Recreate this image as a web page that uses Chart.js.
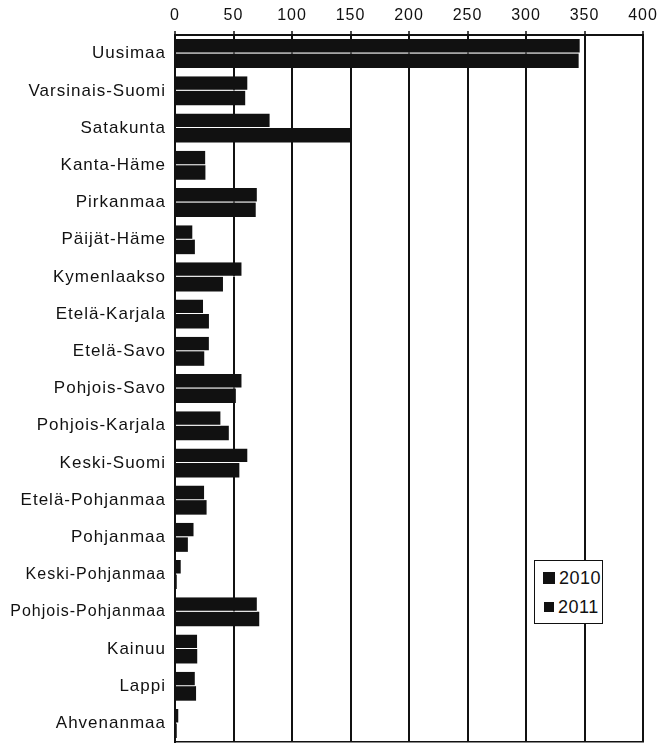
<!DOCTYPE html>
<html><head><meta charset="utf-8">
<script src="https://cdn.jsdelivr.net/npm/chart.js@4/dist/chart.umd.min.js"></script>
<style>
html,body{margin:0;padding:0;background:#fff;}
#wrap{position:relative;width:672px;height:743px;}
#legend{position:absolute;left:534px;top:560px;width:67px;height:62px;border:1px solid #111;background:#fff;font-family:"Liberation Sans",Arial,sans-serif;font-size:18px;color:#111;letter-spacing:0.5px;}
.item{position:absolute;left:8px;height:22px;display:flex;align-items:center;}
.sw{display:inline-block;background:#111;margin-right:4px;}
</style></head><body>
<div id="wrap"><canvas id="c" width="672" height="743"></canvas><div id="legend"></div></div>
<script>
const categories = ['Uusimaa','Varsinais-Suomi','Satakunta','Kanta-Häme','Pirkanmaa','Päijät-Häme','Kymenlaakso','Etelä-Karjala','Etelä-Savo','Pohjois-Savo','Pohjois-Karjala','Keski-Suomi','Etelä-Pohjanmaa','Pohjanmaa','Keski-Pohjanmaa','Pohjois-Pohjanmaa','Kainuu','Lappi','Ahvenanmaa'];
const series2010 = [346, 62, 81, 26, 70, 15, 57, 24, 29, 57, 39, 62, 25, 16, 5, 70, 19, 17, 3];
const series2011 = [345, 60, 150, 26, 69, 17, 41, 29, 25, 52, 46, 55, 27, 11, 1.5, 72, 19, 18, 1.5];
const seriesNames = ['2010', '2011'];
const xTickValues = [0, 50, 100, 150, 200, 250, 300, 350, 400];
const smallLabels = ['Keski-Pohjanmaa', 'Pohjois-Pohjanmaa'];

const FONT = '"Liberation Sans", Arial, sans-serif';
const spacing = {
  id: 'spacing',
  beforeLayout(chart){ chart.ctx.letterSpacing = '1px'; },
  beforeDraw(chart){ chart.ctx.letterSpacing = '1px'; }
};

new Chart(document.getElementById('c'), {
  type: 'bar',
  data: {
    labels: categories,
    datasets: [
      { label: seriesNames[0], data: series2010, backgroundColor: '#111', borderColor: '#fff', borderWidth: {top:0,left:0,right:0,bottom:1}, borderSkipped: false, categoryPercentage: 0.78, barPercentage: 1.0 },
      { label: seriesNames[1], data: series2011, backgroundColor: '#111', borderWidth: 0, categoryPercentage: 0.78, barPercentage: 1.0 }
    ]
  },
  options: {
    indexAxis: 'y',
    responsive: false,
    animation: false,
    devicePixelRatio: 1,
    layout: { padding: { left: 0, right: 29, top: 0, bottom: 1 } },
    plugins: { legend: { display: false }, tooltip: { enabled: false } },
    scales: {
      x: {
        type: 'linear', position: 'top', min: 0, max: 400,
        afterBuildTicks(scale){ scale.ticks = xTickValues.map(v => ({ value: v })); },
        afterFit(scale){ scale.height = 35; scale.paddingLeft = 0; },
        ticks: { color: '#111', font: { family: FONT, size: 16 }, padding: 6, maxRotation: 0 },
        grid: { color: '#111', lineWidth: 2, tickLength: 4, tickColor: '#111', tickWidth: 1.5 },
        border: { display: true, color: '#111', width: 2 }
      },
      xb: {
        type: 'linear', position: 'bottom', min: 0, max: 400,
        afterFit(scale){ scale.height = 0; scale.paddingLeft = 0; scale.paddingRight = 0; },
        ticks: { display: false },
        grid: { display: false },
        border: { display: true, color: '#111', width: 1.5 }
      },
      y: {
        type: 'category',
        afterFit(scale){ scale.width = 175; scale.paddingTop = 0; scale.paddingBottom = 0; },
        ticks: {
          color: '#111', padding: 9, autoSkip: false,
          font: (ctx) => ({ family: FONT, size: smallLabels.includes(categories[ctx.index]) ? 16 : 17 })
        },
        grid: { display: false, drawTicks: false },
        border: { display: true, color: '#111', width: 2 }
      }
    }
  },
  plugins: [spacing]
});

const legend = document.getElementById('legend');
const sizes = [12, 10];
const centers = [17, 46];
seriesNames.forEach((n, i) => {
  const it = document.createElement('div');
  it.className = 'item';
  it.style.top = (centers[i] - 11) + 'px';
  const sw = document.createElement('span');
  sw.className = 'sw';
  sw.style.width = sizes[i] + 'px';
  sw.style.height = sizes[i] + 'px';
  if (i === 1) sw.style.marginLeft = '1px';
  const t = document.createElement('span');
  t.textContent = (i === 1 ? ' ' : '') + n;
  it.appendChild(sw); it.appendChild(t);
  legend.appendChild(it);
});
</script>
</body></html>
